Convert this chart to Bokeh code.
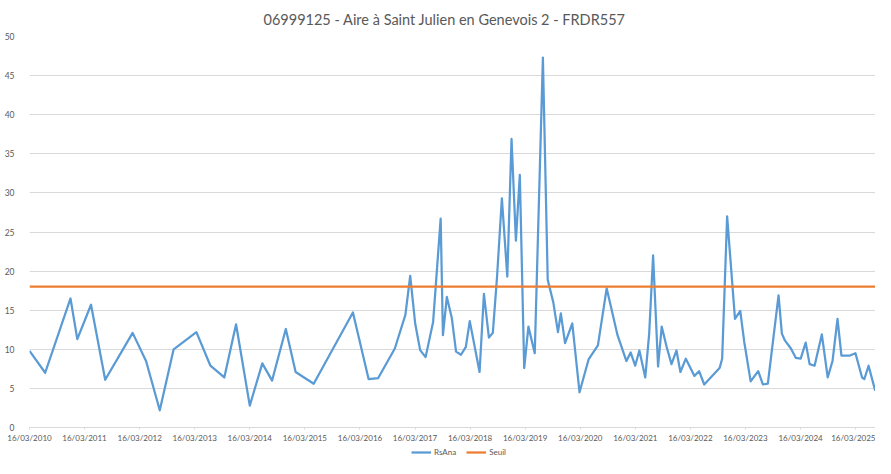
from datetime import datetime
from bokeh.plotting import figure
from bokeh.layouts import column
from bokeh.models import (Range1d, FixedTicker, DatetimeTickFormatter, Legend, LegendItem,
                          ColumnDataSource)
from bokeh.embed import file_html
from bokeh.resources import INLINE

TITLE = "06999125 - Aire à Saint Julien en Genevois 2 - FRDR557"

dates = [
    "2010-03-16", "2010-06-28", "2010-12-13", "2011-01-27", "2011-04-28", "2011-07-31",
    "2012-01-29", "2012-04-27", "2012-07-27", "2012-10-27", "2013-03-27", "2013-06-28",
    "2013-09-28", "2013-12-15", "2014-03-16", "2014-06-07", "2014-08-11", "2014-11-10",
    "2015-01-14", "2015-05-14", "2016-01-29", "2016-05-12", "2016-07-14", "2016-11-02",
    "2017-01-11", "2017-02-12", "2017-03-17", "2017-04-19", "2017-05-25", "2017-07-14",
    "2017-09-02", "2017-09-17", "2017-10-13", "2017-11-15", "2017-12-13", "2018-01-15",
    "2018-02-16", "2018-03-14", "2018-05-18", "2018-06-16", "2018-07-19", "2018-08-14",
    "2018-09-11", "2018-10-13", "2018-11-18", "2018-12-16", "2019-01-14", "2019-02-09",
    "2019-03-10", "2019-04-07", "2019-05-19", "2019-07-12", "2019-08-13", "2019-09-19",
    "2019-10-20", "2019-11-08", "2019-12-06", "2020-01-23", "2020-03-11", "2020-05-10",
    "2020-07-11", "2020-09-07", "2020-11-18", "2021-01-16", "2021-02-13", "2021-03-15",
    "2021-04-12", "2021-05-21", "2021-06-16", "2021-07-12", "2021-08-14", "2021-09-07",
    "2021-10-10", "2021-11-11", "2021-12-14", "2022-01-09", "2022-02-14", "2022-04-12",
    "2022-05-13", "2022-06-16", "2022-09-26", "2022-10-13", "2022-11-15", "2023-01-06",
    "2023-02-10", "2023-03-08", "2023-04-20", "2023-06-09", "2023-07-10", "2023-08-12",
    "2023-10-22", "2023-11-13", "2023-12-04", "2024-01-12", "2024-02-14", "2024-03-17",
    "2024-04-19", "2024-05-15", "2024-06-17", "2024-08-04", "2024-09-12", "2024-10-14",
    "2024-11-16", "2024-12-12", "2025-02-06", "2025-03-15", "2025-04-28", "2025-05-13",
    "2025-06-10", "2025-07-24",
]
rsana = [
    9.8, 7.0, 16.5, 11.3, 15.7, 6.1,
    12.1, 8.5, 2.2, 10.0, 12.2, 7.9,
    6.4, 13.2, 2.8, 8.2, 6.0, 12.6,
    7.1, 5.6, 14.7, 6.2, 6.3, 10.1,
    14.4, 19.4, 13.3, 9.9, 9.0, 13.5,
    26.7, 11.8, 16.7, 14.0, 9.7, 9.3,
    10.3, 13.6, 7.1, 17.1, 11.5, 12.1,
    19.3, 29.3, 19.3, 36.9, 23.9, 32.3,
    7.6, 12.9, 9.5, 47.3, 18.9, 16.0,
    12.2, 14.6, 10.8, 13.3, 4.5, 8.7,
    10.5, 17.8, 11.8, 8.5, 9.6, 7.9,
    9.85, 6.4, 12.0, 22.0, 7.8, 12.9,
    10.3, 8.1, 9.85, 7.1, 8.8, 6.6,
    7.2, 5.5, 7.6, 8.8, 27.0, 13.9,
    14.9, 11.0, 5.9, 7.2, 5.5, 5.6,
    16.9, 12.0, 11.1, 10.1, 8.9, 8.8,
    10.85, 8.1, 7.9, 11.9, 6.4, 8.5,
    13.9, 9.2, 9.2, 9.5, 6.4, 6.2,
    7.9, 4.7,
]
SEUIL = 18
tick_dates = ["%d-03-16" % y for y in range(2010, 2026)]
y_ticks = [0, 5, 10, 15, 20, 25, 30, 35, 40, 45, 50]
series_names = ["RsAna", "Seuil"]
BLUE = "#5b9bd5"
ORANGE = "#ed7d31"

def ms(s):
    return (datetime.strptime(s, "%Y-%m-%d") - datetime(1970, 1, 1)).total_seconds() * 1000.0

x = [ms(d) for d in dates]
src = ColumnDataSource(dict(x=x, y=rsana))

p = figure(width=875, height=445, output_backend="svg", toolbar_location=None,
           x_axis_type="datetime",
           x_range=Range1d(ms(dates[0]), ms("2025-07-26")),
           y_range=Range1d(0, 50),
           min_border_left=29, min_border_right=0, min_border_top=0, min_border_bottom=17)

p.title.text = TITLE
p.title.align = "left"
p.title.text_font = "Lato"
p.title.text_font_size = "14.5px"
p.title.text_font_style = "normal"
p.title.text_color = "#595959"
p.title.offset = 234
p.title.standoff = 17

p.outline_line_color = None
p.background_fill_color = "white"
p.border_fill_color = "white"

p.xgrid.grid_line_color = None
p.ygrid.grid_line_color = "#d9d9d9"
p.ygrid.grid_line_width = 1

p.xaxis.ticker = FixedTicker(ticks=[ms(d) for d in tick_dates])
p.xaxis.formatter = DatetimeTickFormatter(days="%d/%m/%Y", months="%d/%m/%Y", years="%d/%m/%Y")
p.xaxis.axis_line_color = "#d9d9d9"
p.xaxis.major_tick_line_color = "#d9d9d9"
p.xaxis.major_tick_out = 2
p.xaxis.major_tick_in = 0
p.xaxis.minor_tick_line_color = None
p.xaxis.major_label_text_font = "Lato"
p.xaxis.major_label_text_font_size = "8px"
p.xaxis.major_label_text_color = "#595959"
p.xaxis.major_label_standoff = 3
p.xaxis.axis_label_standoff = 0

p.yaxis.ticker = FixedTicker(ticks=y_ticks)
p.yaxis.axis_line_color = None
p.yaxis.major_tick_line_color = None
p.yaxis.minor_tick_line_color = None
p.yaxis.major_label_text_font = "Lato"
p.yaxis.major_label_text_font_size = "8.5px"
p.yaxis.major_label_text_color = "#595959"
p.yaxis.major_label_standoff = 9

p.line("x", "y", source=src, line_color=BLUE, line_width=2.25, line_join="round")
p.line([x[0], ms("2025-07-26")], [SEUIL, SEUIL], line_color=ORANGE, line_width=2.25)

# legend strip below the chart (swatch renderers sit outside the visible range)
lg = figure(width=875, height=13, output_backend="svg", toolbar_location=None,
            x_axis_location=None, y_axis_location=None,
            x_range=Range1d(0, 1), y_range=Range1d(0, 1),
            min_border_left=0, min_border_right=0, min_border_top=0, min_border_bottom=0)
lg.outline_line_color = None
lg.grid.visible = False
lg.border_fill_color = "white"
g1 = lg.line([-2, -1], [-2, -2], line_color=BLUE, line_width=2.25)
g2 = lg.line([-2, -1], [-2, -2], line_color=ORANGE, line_width=2.25)
legend = Legend(items=[LegendItem(label=series_names[0], renderers=[g1]),
                       LegendItem(label=series_names[1], renderers=[g2])],
                orientation="horizontal", location=(382, 1),
                label_text_font="Lato", label_text_font_size="8px",
                label_text_color="#595959", glyph_width=20, glyph_height=6,
                label_height=8, label_standoff=3, spacing=10, padding=1, margin=0,
                border_line_color=None, background_fill_alpha=0)
lg.add_layout(legend)

layout = column(p, lg, spacing=0)
open("out.html", "w").write(file_html(layout, INLINE))
